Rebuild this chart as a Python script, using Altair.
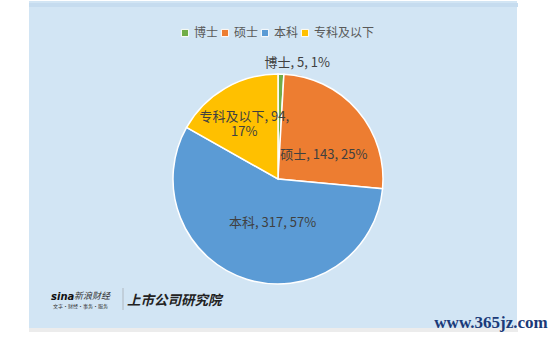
import altair as alt
import pandas as pd

# ---- data ----
cats = ["博士", "硕士", "本科", "专科及以下"]
counts = [5, 143, 317, 94]
pcts = [1, 25, 57, 17]
colors = ["#70AD47", "#ED7D31", "#5B9BD5", "#FFC000"]

df = pd.DataFrame({"cat": cats, "n": counts, "pct": pcts,
                   "idx": list(range(len(cats)))})

FONT = "Noto Sans CJK SC"
CX, CY = 249, 178  # pie centre inside the view
R = 105

theta = alt.Theta("n:Q", stack=True)
order = alt.Order("idx:Q")

arc = alt.Chart(df).mark_arc(outerRadius=R, stroke="white", strokeWidth=1.5).encode(
    theta=theta,
    order=order,
    x=alt.value(CX), y=alt.value(CY),
    color=alt.Color("cat:N", sort=cats,
                    scale=alt.Scale(domain=cats, range=colors),
                    legend=alt.Legend(title=None, orient="none", direction="horizontal",
                                      legendX=150, legendY=26,
                                      symbolType="square", symbolSize=52,
                                      symbolStrokeColor="white", symbolStrokeWidth=1,
                                      labelFont=FONT, labelFontSize=12, labelColor="#595959",
                                      labelOffset=3, columnPadding=0)),
)

FULL = "datum.cat + ', ' + datum.n + ', ' + datum.pct + '%'"
HEAD = "datum.cat + ', ' + datum.n + ','"
TAIL = "datum.pct + '%'"

def lab_layer(cat, expr, radius, dx, dy):
    return alt.Chart(df).transform_calculate(
        t=f"datum.cat == '{cat}' ? ({expr}) : ''"
    ).mark_text(font=FONT, fontSize=13, color="#404040",
                radius=radius, dx=dx, dy=dy, align="center", baseline="middle").encode(
        theta=theta, order=order, detail="cat:N",
        x=alt.value(CX), y=alt.value(CY),
        text=alt.Text("t:N"),
    )

labels_layers = [
    lab_layer("博士", FULL, 116, 16, 0),
    lab_layer("硕士", FULL, 50, 8, 9),
    lab_layer("本科", FULL, 45, 8, 1),
    lab_layer("专科及以下", HEAD, 63, -2, -7.5),
    lab_layer("专科及以下", TAIL, 63, -2, 7.5),
]

one = pd.DataFrame({"a": [0]})
top_band = alt.Chart(one).mark_rule(color="#C6DCEF", strokeWidth=4).encode(
    x=alt.value(0), x2=alt.value(489), y=alt.value(4))
bottom_shadow = alt.Chart(one).mark_rule(color="#ECECEC", strokeWidth=4).encode(
    x=alt.value(0), x2=alt.value(489), y=alt.value(329))
divider = alt.Chart(one).mark_rule(color="#B0B8C0", strokeWidth=1).encode(
    x=alt.value(94), y=alt.value(287), y2=alt.value(309))
sina = alt.Chart(one).mark_text(text="sina", font="DejaVu Sans", fontSize=10, fontWeight="bold",
                                fontStyle="italic", color="#111111", align="left").encode(
    x=alt.value(22), y=alt.value(296))
xl = alt.Chart(one).mark_text(text="新浪财经", font=FONT, fontSize=9, fontStyle="italic",
                              color="#333333", align="left").encode(
    x=alt.value(45), y=alt.value(295))
sub = alt.Chart(one).mark_text(text="文字·财经·事务·服务", font=FONT, fontSize=5,
                               color="#333333", align="left").encode(
    x=alt.value(24), y=alt.value(305))
yjy = alt.Chart(one).mark_text(text="上市公司研究院", font=FONT, fontSize=13.5, fontWeight="bold",
                               fontStyle="italic", color="#222222", align="left").encode(
    x=alt.value(98), y=alt.value(300))
wm = alt.Chart(one).mark_text(text="www.365jz.com", font="Liberation Serif", fontSize=17,
                              fontWeight="bold", color="#1B3A78", align="center").encode(
    x=alt.value(462), y=alt.value(322))

chart = alt.layer(top_band, bottom_shadow, arc, *labels_layers, divider, sina, xl, sub, yjy, wm).properties(
    width=488, height=327,
    autosize=alt.AutoSizeParams(type="none"),
    padding={"left": 29, "top": 1, "right": 40, "bottom": 9},
    background="white",
).configure_view(fill="#D2E5F4", stroke=None)

chart.save("out.html", embed_options={"renderer": "svg", "actions": False})
